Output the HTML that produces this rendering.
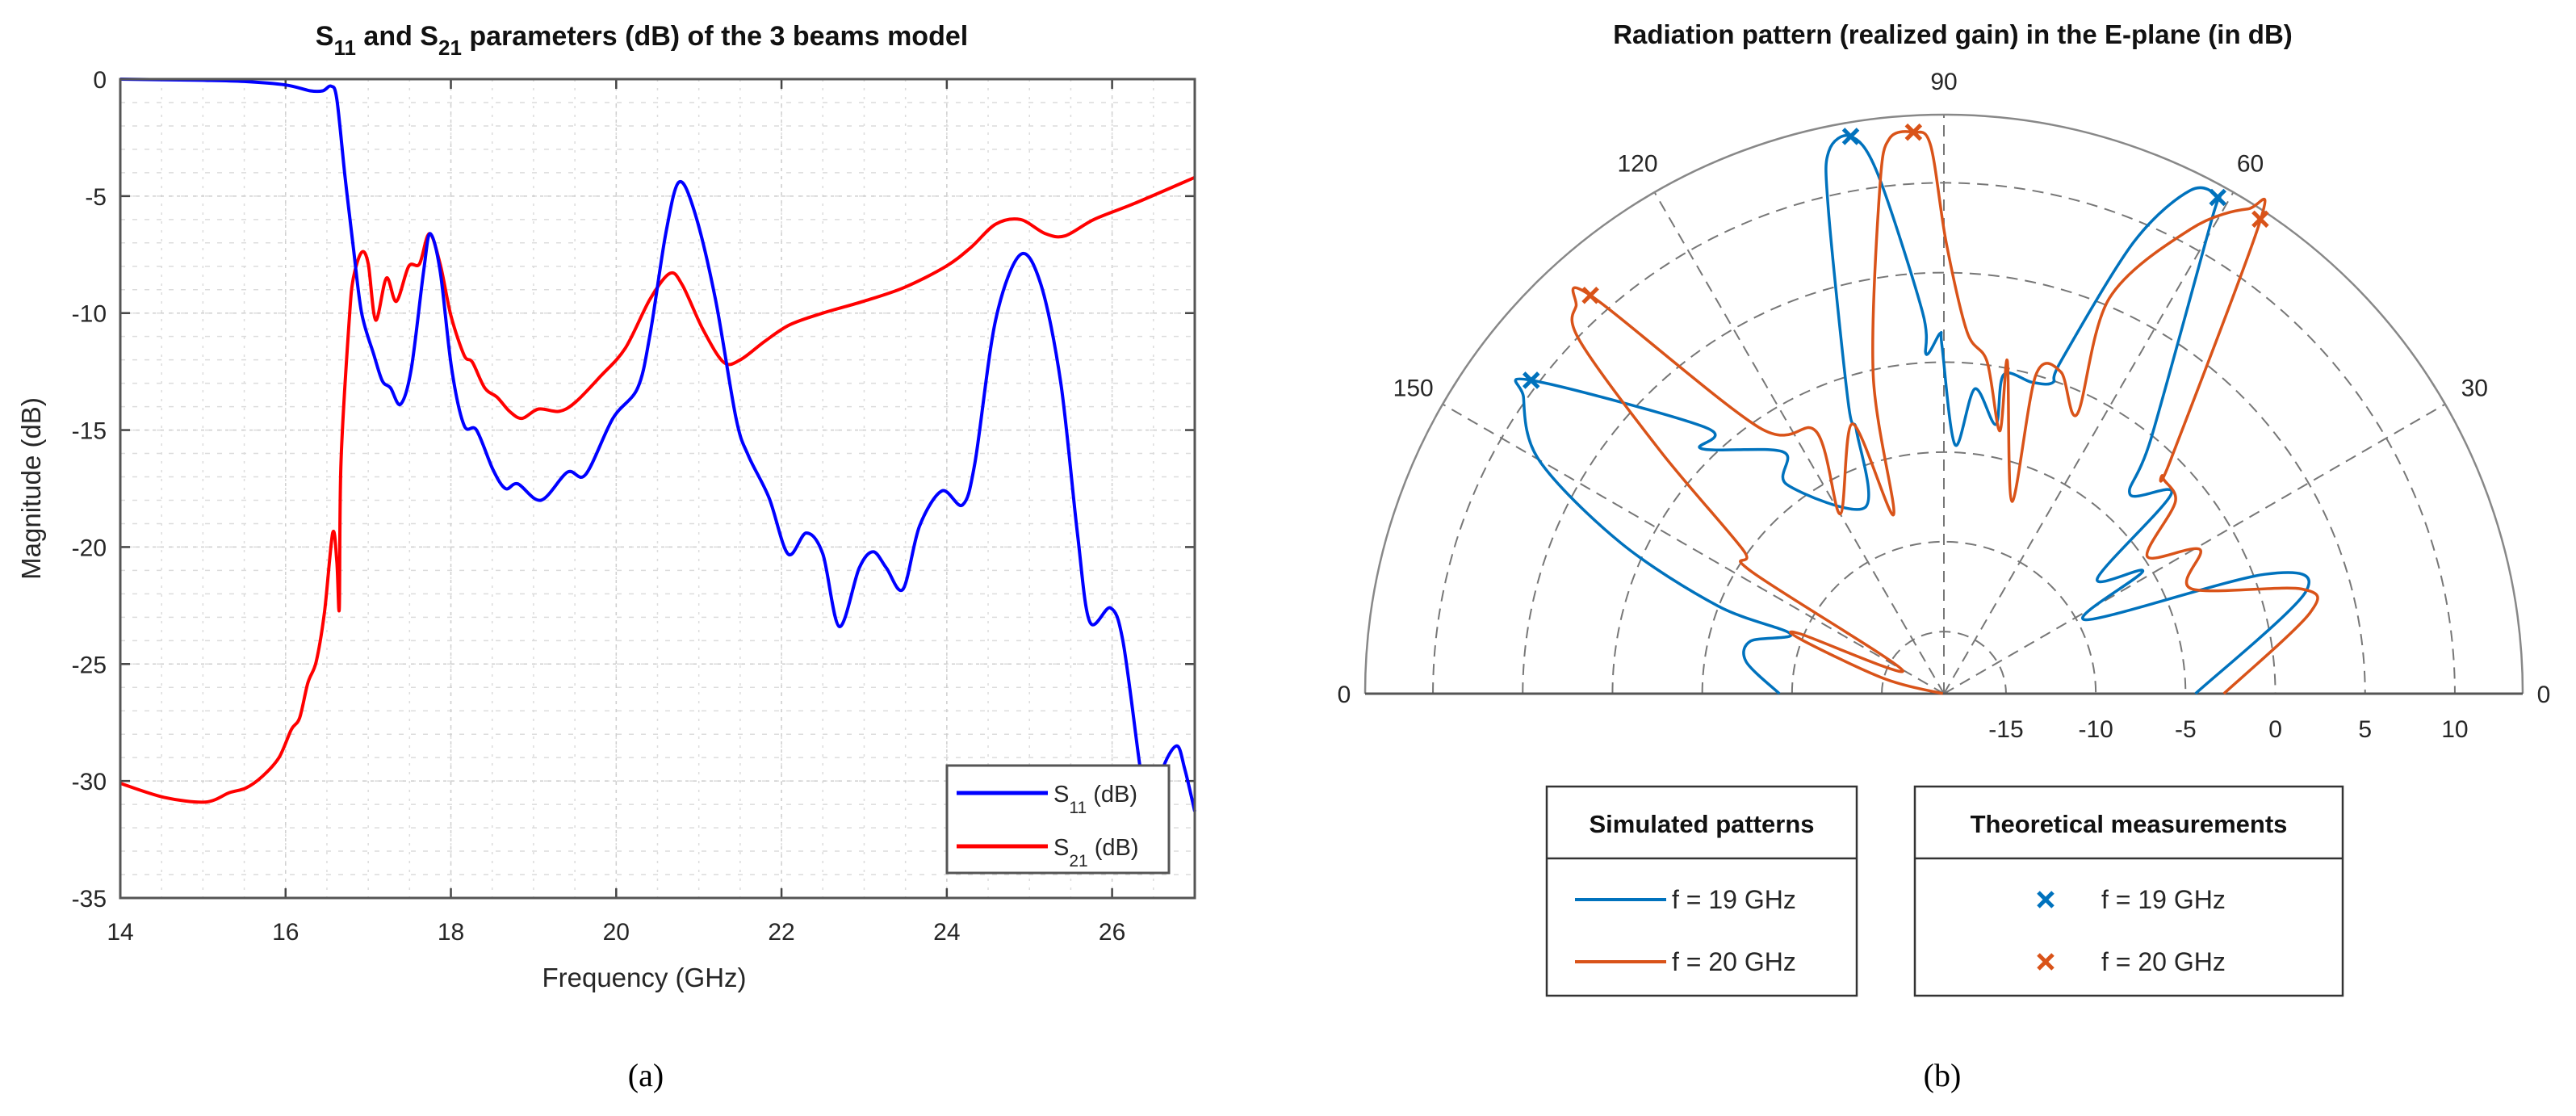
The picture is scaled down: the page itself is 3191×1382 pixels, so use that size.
<!DOCTYPE html>
<html><head><meta charset="utf-8"><style>
html,body{margin:0;padding:0;background:#fff}
svg{display:block;font-family:"Liberation Sans",Arial,sans-serif}
</style></head><body>
<svg id="fig" width="3191" height="1382" viewBox="0 0 3191 1382" xmlns="http://www.w3.org/2000/svg">
<rect width="3191" height="1382" fill="#fff"/>
<g id="left"></g>
<g id="right"></g>
<text x="800" y="1345" font-family="Liberation Serif,serif" font-size="40" text-anchor="middle">(a)</text>
<text x="2406" y="1345" font-family="Liberation Serif,serif" font-size="40" text-anchor="middle">(b)</text>
</svg>
<script>
// ---------- Left chart data ----------
const xTicks = [14,16,18,20,22,24,26];
const yTicks = [0,-5,-10,-15,-20,-25,-30,-35];
const s11Freq = [14,15,15.5,16.0,16.3,16.45,16.55,16.62,16.72,16.82,16.92,17.07,17.17,17.27,17.39,17.52,17.67,17.75,17.87,18.01,18.16,18.31,18.51,18.66,18.81,19.09,19.41,19.63,19.96,20.26,20.41,20.6,20.76,20.95,21.2,21.45,21.6,21.85,22.08,22.3,22.5,22.7,22.94,23.11,23.27,23.47,23.67,23.94,24.19,24.34,24.59,24.89,25.14,25.38,25.58,25.73,25.98,26.13,26.33,26.45,26.6,26.78,26.88,27];
const s11dB = [0,-0.05,-0.1,-0.25,-0.5,-0.5,-0.3,-0.85,-4.2,-7.2,-10,-11.8,-12.9,-13.2,-13.9,-12.4,-8.2,-6.6,-8.2,-12.4,-14.8,-15,-16.7,-17.5,-17.3,-18,-16.8,-16.9,-14.5,-13.2,-10.9,-6.6,-4.4,-5.7,-9.4,-14.5,-16.1,-17.9,-20.3,-19.4,-20.3,-23.4,-20.9,-20.2,-20.9,-21.8,-19.1,-17.6,-18.2,-16.4,-10.3,-7.5,-8.8,-13,-19.4,-23.2,-22.6,-24,-29.2,-32,-29.6,-28.5,-29.5,-31.3];
const s21Freq = [14,14.53,15.03,15.32,15.52,15.72,15.92,16.07,16.17,16.27,16.37,16.47,16.57,16.62,16.65,16.67,16.77,16.82,16.92,17,17.09,17.22,17.34,17.49,17.62,17.74,17.87,18,18.16,18.26,18.41,18.56,18.71,18.86,19.06,19.31,19.51,19.81,20.11,20.41,20.65,20.8,21.05,21.3,21.5,21.8,22.1,22.5,22.99,23.49,23.99,24.29,24.59,24.89,25.19,25.43,25.78,26.28,27];
const s21dB = [-30.1,-30.7,-30.9,-30.5,-30.3,-29.8,-29,-27.8,-27.3,-25.8,-24.9,-22.8,-19.4,-20.6,-22.6,-16.4,-10.3,-8.5,-7.4,-7.9,-10.3,-8.5,-9.5,-8,-7.9,-6.6,-7.9,-10.1,-11.8,-12.1,-13.2,-13.6,-14.2,-14.5,-14.1,-14.2,-13.8,-12.7,-11.5,-9.4,-8.3,-8.8,-10.7,-12.1,-12,-11.2,-10.5,-10,-9.5,-8.9,-8,-7.2,-6.2,-6,-6.6,-6.7,-6,-5.3,-4.2];

// ---------- Polar chart data ----------
const ringTicks = [-15,-10,-5,0,5,10];
const angleTicks = [0,30,60,90,120,150,180];
const angleLabels = ["0","30","60","90","120","150","0"];
const p19Angle = [0,15.7,20.4,27.5,31.6,36.9,41.3,47,51,60.5,61.1,63.9,67.2,70.6,70.7,74.2,79.4,79.1,84.2,87.4,90.3,90.6,93,93.2,97.3,99.5,102,103.4,108.2,108.4,113,126.9,123.6,134.7,131.8,142.8,144.8,150,155,158.8,158.7,164.8,170.8,180];
const p19dB = [-4.45,2.47,0.6,-9.55,-5.45,-7.77,-1.6,-3.27,-0.1,11.8,13.1,12.75,8.8,1.17,-0.1,-0.44,-0.4,-3.2,-1.4,-4.6,0.84,1.6,0.47,2.8,10.8,13.0,12.4,9.35,-1.4,-3.05,-7.2,-3.9,-2.3,0.73,1.4,10.4,10.2,7.6,1.4,-4.96,-9.3,-7.3,-7.3,-9.3];
const p20Angle = [0,12.4,16.3,23,29.4,34,39.7,44.8,45.9,56.2,57.9,62,67.3,64.5,70,73.9,70.5,79.2,78,82.6,86.3,89.7,91.4,93.1,95.6,97.2,102.5,105.7,108.7,120,116,124.8,131.6,133.5,135.9,139.5,144.4,147.6,150.4,157.4,159.3,165.8,180];
const p20dB = [-2.87,2.4,2.3,-3.5,-2.1,-4.8,-1.7,-1.3,-0.3,13.2,13.4,10.85,5.4,-1.2,0.6,0.0,-7.1,0.4,-3.5,0.2,1.7,6.65,12.1,12.85,12.6,10.0,-0.27,-8.1,-2.6,-6.9,-2.2,-0.4,11.2,11.3,9.8,2.25,-4.7,-5.7,-15.8,-9.8,-10.05,-15,-18.4];
const m19Angle = [99.5,61.1,142.8];
const m19dB = [13.0,13.1,10.4];
const m20Angle = [93.1,56.3,131.6];
const m20dB = [12.85,13.3,11.2];

const NS = "http://www.w3.org/2000/svg";
function mk(parent, tag, attrs){const e=document.createElementNS(NS,tag);for(const k in attrs)e.setAttribute(k,attrs[k]);parent.appendChild(e);return e;}
function smooth(pts){
  if(pts.length<2)return "";
  let d="M"+pts[0][0].toFixed(1)+","+pts[0][1].toFixed(1);
  for(let i=0;i<pts.length-1;i++){
    const p0=pts[Math.max(0,i-1)],p1=pts[i],p2=pts[i+1],p3=pts[Math.min(pts.length-1,i+2)];
    const t=0.16;
    const c1=[p1[0]+(p2[0]-p0[0])*t,p1[1]+(p2[1]-p0[1])*t];
    const c2=[p2[0]-(p3[0]-p1[0])*t,p2[1]-(p3[1]-p1[1])*t];
    d+="C"+c1[0].toFixed(1)+","+c1[1].toFixed(1)+" "+c2[0].toFixed(1)+","+c2[1].toFixed(1)+" "+p2[0].toFixed(1)+","+p2[1].toFixed(1);
  }
  return d;
}

// ---------- Left chart ----------
(function(){
  const g=document.getElementById('left');
  const X0=149,X1=1480,Y0=98,Y1=1112,fmin=14,fmax=27,dmin=-35,dmax=0;
  const xs=f=>X0+(f-fmin)/(fmax-fmin)*(X1-X0);
  const ys=v=>Y0+(dmax-v)/(dmax-dmin)*(Y1-Y0);
  for(let f=fmin;f<=fmax+1e-9;f+=0.5){
    const l=mk(g,'line',{x1:xs(f),x2:xs(f),y1:Y0,y2:Y1,stroke:'#dcdcdc','stroke-width':1.5,'stroke-dasharray':'3,8'});
    
    
  }
  for(let v=dmin;v<=dmax;v+=1){
    const l=mk(g,'line',{x1:X0,x2:X1,y1:ys(v),y2:ys(v),stroke:'#dcdcdc','stroke-width':1.5,'stroke-dasharray':'6,9'});
    
    
  }
  xTicks.forEach(f=>{
    const l=mk(g,'line',{x1:xs(f),x2:xs(f),y1:Y0,y2:Y1,stroke:'#cfcfcf','stroke-width':1.5,'stroke-dasharray':'4,6'});
    
    
    const t1=mk(g,'line',{x1:xs(f),x2:xs(f),y1:Y1,y2:Y1-12,stroke:'#444','stroke-width':2.5});
    
    
    const t2=mk(g,'line',{x1:xs(f),x2:xs(f),y1:Y0,y2:Y0+12,stroke:'#444','stroke-width':2.5});
    
    
    const tx=mk(g,'text',{x:xs(f),y:1164,'font-size':30,fill:'#262626','text-anchor':'middle'});
    tx.textContent=f;
    
    
  });
  yTicks.forEach(v=>{
    const l=mk(g,'line',{x1:X0,x2:X1,y1:ys(v),y2:ys(v),stroke:'#cfcfcf','stroke-width':1.5,'stroke-dasharray':'4,6'});
    
    
    const t1=mk(g,'line',{x1:X0,x2:X0+12,y1:ys(v),y2:ys(v),stroke:'#444','stroke-width':2.5});
    
    
    const t2=mk(g,'line',{x1:X1,x2:X1-12,y1:ys(v),y2:ys(v),stroke:'#444','stroke-width':2.5});
    
    
    const tx=mk(g,'text',{x:132,y:ys(v)+11,'font-size':30,fill:'#262626','text-anchor':'end'});
    tx.textContent=v;
    
    
  });
  const s21=mk(g,'path',{d:smooth(s21Freq.map((f,i)=>[xs(f),ys(s21dB[i])])),fill:'none',stroke:'#ff0000','stroke-width':4,'stroke-linejoin':'round'});
  
  
  const s11=mk(g,'path',{d:smooth(s11Freq.map((f,i)=>[xs(f),ys(s11dB[i])])),fill:'none',stroke:'#0000ff','stroke-width':4,'stroke-linejoin':'round'});
  
  
  const box=mk(g,'rect',{x:X0,y:Y0,width:X1-X0,height:Y1-Y0,fill:'none',stroke:'#555','stroke-width':3});
  
  
  const lg=mk(g,'g',{});
  
  
  mk(lg,'rect',{x:1173,y:948,width:275,height:133,fill:'#fff',stroke:'#555','stroke-width':3});
  const e1=mk(lg,'line',{x1:1185,x2:1298,y1:982,y2:982,stroke:'#0000ff','stroke-width':5});
  
  
  const e2=mk(lg,'line',{x1:1185,x2:1298,y1:1048,y2:1048,stroke:'#ff0000','stroke-width':5});
  
  
  const l1=mk(lg,'text',{x:1305,y:993,'font-size':29,fill:'#262626'});
  l1.innerHTML='S<tspan font-size="21" dy="14">11</tspan><tspan dy="-14"> (dB)</tspan>';
  
  
  const l2=mk(lg,'text',{x:1305,y:1059,'font-size':29,fill:'#262626'});
  l2.innerHTML='S<tspan font-size="21" dy="14">21</tspan><tspan dy="-14"> (dB)</tspan>';
  
  
  const tt=mk(g,'text',{x:795,y:56,'font-size':34,'font-weight':'bold',fill:'#111','text-anchor':'middle'});
  tt.innerHTML='S<tspan font-size="26" dy="12">11</tspan><tspan dy="-12"> and S</tspan><tspan font-size="26" dy="12">21</tspan><tspan dy="-12"> parameters (dB) of the 3 beams model</tspan>';
  
  
  const xl=mk(g,'text',{x:798,y:1222,'font-size':33,fill:'#262626','text-anchor':'middle'});
  xl.textContent='Frequency (GHz)';
  
  
  const yl=mk(g,'text',{x:0,y:0,'font-size':33,fill:'#262626','text-anchor':'middle',transform:'translate(50,605) rotate(-90)'});
  yl.textContent='Magnitude (dB)';
  
  
})();

// ---------- Polar chart ----------
(function(){
  const g=document.getElementById('right');
  const CX=2408,CY=859,R=717,rMin=-18.46,rMax=13.78;
  const rad=v=>Math.max(0,(v-rMin)/(rMax-rMin)*R);
  const pt=(a,v)=>{const r=rad(v),t=a*Math.PI/180;return [CX+r*Math.cos(t),CY-r*Math.sin(t)];};
  const arc=r=>`M${CX-r},${CY} A${r},${r} 0 0 1 ${CX+r},${CY}`;
  ringTicks.forEach(v=>{
    const a=mk(g,'path',{d:arc(rad(v)),fill:'none',stroke:'#777','stroke-width':2,'stroke-dasharray':'14,9'});
    
    
    const t=mk(g,'text',{x:CX+rad(v),y:913,'font-size':30,fill:'#262626','text-anchor':'middle'});
    t.textContent=v;
    
    
  });
  angleTicks.forEach((a,i)=>{
    if(a>0&&a<180){
      const p=pt(a,rMax);
      const s=mk(g,'line',{x1:CX,y1:CY,x2:p[0],y2:p[1],stroke:'#777','stroke-width':2,'stroke-dasharray':'14,9'});
      
      
    }
    const t0=a*Math.PI/180,rr=R+(a===0||a===180?26:42);
    const t=mk(g,'text',{x:CX+rr*Math.cos(t0),y:CY-rr*Math.sin(t0)+11,'font-size':30,fill:'#262626','text-anchor':'middle'});
    t.textContent=angleLabels[i];
    
    
  });
  const outer=mk(g,'path',{d:arc(R),fill:'none',stroke:'#888','stroke-width':2.5});
  
  
  const base=mk(g,'line',{x1:CX-R,x2:CX+R,y1:CY,y2:CY,stroke:'#555','stroke-width':3});
  
  
  const c19=mk(g,'path',{d:smooth(p19Angle.map((a,i)=>pt(a,p19dB[i]))),fill:'none',stroke:'#0072BD','stroke-width':3.5,'stroke-linejoin':'round'});
  
  
  const c20=mk(g,'path',{d:smooth(p20Angle.map((a,i)=>pt(a,p20dB[i]))),fill:'none',stroke:'#D95319','stroke-width':3.5,'stroke-linejoin':'round'});
  
  
  function cross(x,y,col){
    return mk(g,'path',{d:`M${x-9},${y-9}L${x+9},${y+9}M${x-9},${y+9}L${x+9},${y-9}`,stroke:col,'stroke-width':5,fill:'none'});
  }
  m19Angle.forEach((a,i)=>{const p=pt(a,m19dB[i]);const c=cross(p[0],p[1],'#0072BD');
    
    });
  m20Angle.forEach((a,i)=>{const p=pt(a,m20dB[i]);const c=cross(p[0],p[1],'#D95319');
    
    });
  const tt=mk(g,'text',{x:2419,y:54,'font-size':33,'font-weight':'bold',fill:'#111','text-anchor':'middle'});
  tt.textContent='Radiation pattern (realized gain) in the E-plane (in dB)';
  
  
  const L1=mk(g,'g',{});
  
  
  mk(L1,'rect',{x:1916,y:974,width:384,height:259,fill:'#fff',stroke:'#333','stroke-width':2.5});
  mk(L1,'line',{x1:1916,x2:2300,y1:1063,y2:1063,stroke:'#333','stroke-width':2.5});
  const h1=mk(L1,'text',{x:2108,y:1031,'font-size':31,'font-weight':'bold','text-anchor':'middle',fill:'#111'});h1.textContent='Simulated patterns';
  mk(L1,'line',{x1:1951,x2:2064,y1:1114,y2:1114,stroke:'#0072BD','stroke-width':4});
  mk(L1,'line',{x1:1951,x2:2064,y1:1191,y2:1191,stroke:'#D95319','stroke-width':4});
  const a1=mk(L1,'text',{x:2071,y:1125,'font-size':32,fill:'#262626'});a1.textContent='f = 19 GHz';
  const a2=mk(L1,'text',{x:2071,y:1202,'font-size':32,fill:'#262626'});a2.textContent='f = 20 GHz';
  const L2=mk(g,'g',{});
  
  
  mk(L2,'rect',{x:2372,y:974,width:530,height:259,fill:'#fff',stroke:'#333','stroke-width':2.5});
  mk(L2,'line',{x1:2372,x2:2902,y1:1063,y2:1063,stroke:'#333','stroke-width':2.5});
  const h2=mk(L2,'text',{x:2637,y:1031,'font-size':31,'font-weight':'bold','text-anchor':'middle',fill:'#111'});h2.textContent='Theoretical measurements';
  mk(L2,'path',{d:'M2525,1105L2543,1123M2525,1123L2543,1105',stroke:'#0072BD','stroke-width':5});
  mk(L2,'path',{d:'M2525,1182L2543,1200M2525,1200L2543,1182',stroke:'#D95319','stroke-width':5});
  const b1=mk(L2,'text',{x:2603,y:1125,'font-size':32,fill:'#262626'});b1.textContent='f = 19 GHz';
  const b2=mk(L2,'text',{x:2603,y:1202,'font-size':32,fill:'#262626'});b2.textContent='f = 20 GHz';
})();
</script>
</body></html>
